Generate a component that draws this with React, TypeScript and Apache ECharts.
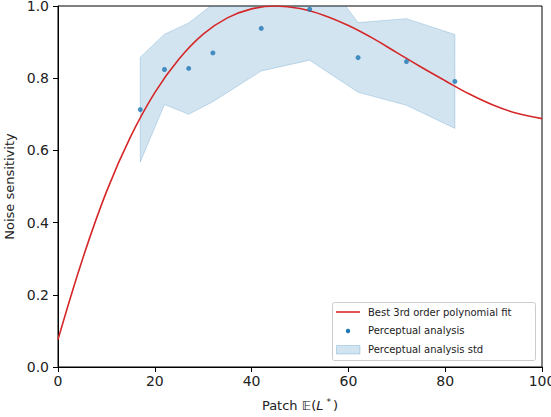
import React, { useEffect, useRef } from "react";
import * as echarts from "echarts";

// Perceptual analysis (mean) points
const patchX = [17, 22, 27, 32, 42, 52, 62, 72, 82];
const meanY = [0.713, 0.824, 0.827, 0.870, 0.938, 0.991, 0.857, 0.846, 0.791];
// std band (lower / upper bounds)
const lowerY = [0.568, 0.727, 0.700, 0.735, 0.820, 0.850, 0.761, 0.725, 0.661];
const upperY = [0.858, 0.922, 0.953, 1.005, 1.056, 1.132, 0.954, 0.965, 0.921];
// Best 3rd order polynomial fit
const fitX = [0, 5, 10, 15, 20, 25, 30, 35, 40, 45, 50, 55, 60, 65, 70, 75, 80, 85, 90, 95, 100];
const fitY = [0.076, 0.296, 0.485, 0.638, 0.760, 0.853, 0.922, 0.967, 0.992, 1.0, 0.993, 0.974, 0.946, 0.911, 0.871, 0.831, 0.793, 0.756, 0.725, 0.702, 0.688];

const xTicks = [0, 20, 40, 60, 80, 100];

const legendLabels = ["Best 3rd order polynomial fit", "Perceptual analysis", "Perceptual analysis std"];

const FONT = "DejaVu Sans";

export default function App() {
  const ref = useRef<HTMLDivElement>(null);
  useEffect(() => {
    if (!ref.current) return;
    const chart = echarts.init(ref.current, null, { renderer: "svg" });
    const bandColor = "rgba(31,119,180,0.2)";
    const option: any = {
      animation: false,
      backgroundColor: "#fff",
      textStyle: { fontFamily: FONT },
      grid: {
        left: 58, right: 9, top: 6, bottom: 50,
        outerBoundsMode: "none", containLabel: false,
        show: true, borderColor: "#000", borderWidth: 1, backgroundColor: "transparent",
      },
      xAxis: {
        type: "value",
        min: xTicks[0],
        max: xTicks[xTicks.length - 1],
        interval: 20,
        axisLine: { show: true, lineStyle: { color: "#000", width: 1 } },
        axisTick: { show: true, length: 5, lineStyle: { color: "#000" } },
        splitLine: { show: false },
        axisLabel: { color: "#222", fontSize: 14, fontFamily: FONT, margin: 7 },
        name: "{a|Patch 𝔼(}{i|L}{s|*}{a|)}",
        nameLocation: "middle",
        nameGap: 30,
        nameTextStyle: {
          color: "#222",
          fontSize: 13,
          fontFamily: FONT,
          rich: {
            a: { fontSize: 13, fontFamily: FONT, color: "#222" },
            i: { fontSize: 13, fontFamily: FONT, fontStyle: "italic", color: "#222", padding: [0, 2, 0, 0] },
            s: { fontSize: 9, fontFamily: FONT, color: "#222", padding: [0, 2, 8, 1] },
          },
        },
      },
      yAxis: {
        type: "value",
        min: 0,
        max: 1,
        interval: 0.2,
        axisLine: { show: true, lineStyle: { color: "#000", width: 1 } },
        axisTick: { show: true, length: 5, lineStyle: { color: "#000" } },
        splitLine: { show: false },
        axisLabel: { color: "#222", fontSize: 14, fontFamily: FONT, margin: 9, formatter: (v: number) => v.toFixed(1) },
        name: "Noise sensitivity",
        nameLocation: "middle",
        nameGap: 42,
        nameTextStyle: { color: "#222", fontSize: 13, fontFamily: FONT },
      },
      series: [
        {
          name: legendLabels[2],
          type: "custom",
          data: [0],
          silent: true,
          z: 1,
          renderItem: (params: any, api: any) => {
            const top = patchX.map((x, i) => api.coord([x, upperY[i]]));
            const bottom = patchX.map((x, i) => api.coord([x, lowerY[i]])).reverse();
            const cs = params.coordSys;
            return {
              type: "polygon",
              shape: { points: top.concat(bottom) },
              style: { fill: bandColor, stroke: "rgba(31,119,180,0.22)", lineWidth: 1 },
              clipPath: { type: "rect", shape: { x: cs.x, y: cs.y, width: cs.width, height: cs.height } },
            };
          },
        },
        {
          name: legendLabels[0],
          type: "line",
          data: fitX.map((x, i) => [x, fitY[i]]),
          smooth: 0.4,
          symbol: "none",
          lineStyle: { color: "#d62728", width: 1.6 },
          z: 3,
        },
        {
          name: legendLabels[1],
          type: "scatter",
          data: patchX.map((x, i) => [x, meanY[i]]),
          symbol: "circle",
          symbolSize: 5,
          itemStyle: { color: "#1f77b4" },
          z: 4,
        },
      ],
      graphic: [
        {
          type: "rect",
          shape: { x: 332.5, y: 302.5, width: 203, height: 58, r: 2 },
          style: { fill: "rgba(255,255,255,0.8)", stroke: "#ccc", lineWidth: 1 },
          z: 10,
        },
        { type: "line", shape: { x1: 336, y1: 312, x2: 360, y2: 312 }, style: { stroke: "#d62728", lineWidth: 1.6 }, z: 11 },
        { type: "circle", shape: { cx: 348, cy: 331, r: 2.2 }, style: { fill: "#1f77b4" }, z: 11 },
        { type: "rect", shape: { x: 336.5, y: 345.5, width: 23.5, height: 8.5 }, style: { fill: bandColor, stroke: "rgba(31,119,180,0.25)", lineWidth: 1 }, z: 11 },
        { type: "text", x: 368, y: 312, style: { text: legendLabels[0], fill: "#222", font: `10px '${FONT}'`, verticalAlign: "middle" }, z: 11 },
        { type: "text", x: 368, y: 330.5, style: { text: legendLabels[1], fill: "#222", font: `10px '${FONT}'`, verticalAlign: "middle" }, z: 11 },
        { type: "text", x: 368, y: 349, style: { text: legendLabels[2], fill: "#222", font: `10px '${FONT}'`, verticalAlign: "middle" }, z: 11 },
      ],
    };
    chart.setOption(option);
    return () => chart.dispose();
  }, []);
  return <div ref={ref} style={{ width: 551, height: 417, position: "absolute", left: 0, top: 0 }} />;
}
